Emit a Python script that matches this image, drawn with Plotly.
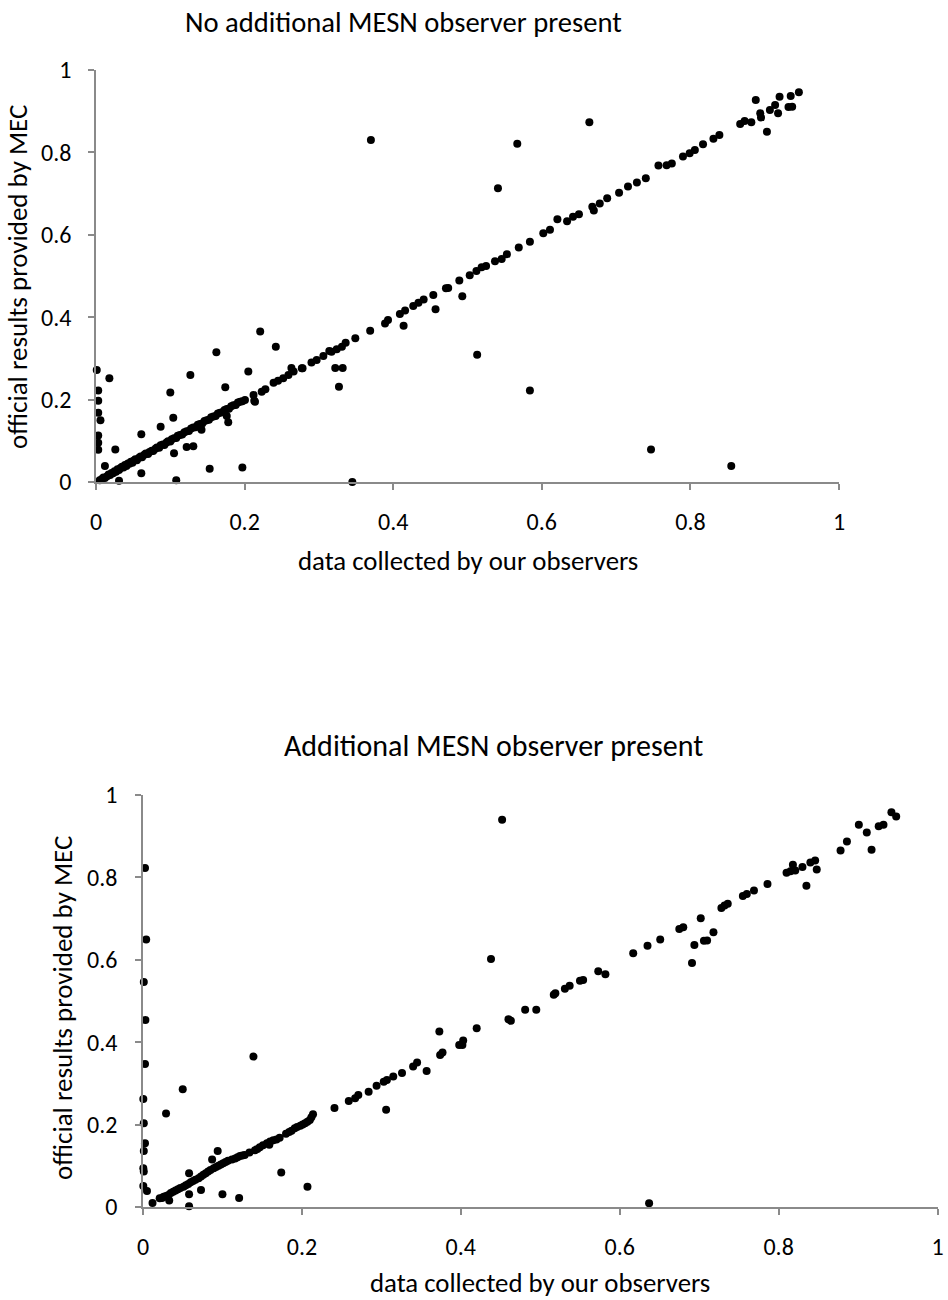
import plotly.graph_objects as go

# ---------------- data ----------------
tick_vals = [0, 0.2, 0.4, 0.6, 0.8, 1]
tick_text = ["0", "0.2", "0.4", "0.6", "0.8", "1"]

title_top = "No additional MESN observer present"
title_bottom = "Additional MESN observer present"
x_title = "data collected by our observers"
y_title = "official results provided by MEC"

# Top panel: no additional MESN observer present
top_x = [
    0.001, 0.003, 0.003, 0.003, 0.006, 0.003, 0.003, 0.003, 0.018, 0.012, 0.026, 0.031,
    0.061, 0.061, 0.087, 0.104, 0.100, 0.127, 0.162, 0.174, 0.205, 0.105, 0.122, 0.131,
    0.108, 0.153, 0.197, 0.142, 0.178, 0.176, 0.213, 0.221, 0.242,
    0.263, 0.278, 0.322, 0.332, 0.327, 0.345, 0.370, 0.414, 0.457, 0.493, 0.513, 0.584,
    0.747, 0.855, 0.541, 0.567, 0.664,
    0.888, 0.903, 0.918, 0.920, 0.935, 0.946, 0.932, 0.937, 0.882, 0.867, 0.873, 0.895,
    0.894, 0.907, 0.914,
    0.005, 0.008, 0.010, 0.012, 0.015, 0.017, 0.019, 0.021, 0.023, 0.025, 0.027, 0.029,
    0.031, 0.033, 0.035, 0.037, 0.039, 0.041, 0.043, 0.045, 0.047, 0.049, 0.051, 0.053,
    0.055, 0.058, 0.060, 0.062, 0.065, 0.067, 0.070, 0.072, 0.075, 0.077, 0.080, 0.082,
    0.085, 0.087, 0.090, 0.092, 0.095, 0.097, 0.100, 0.102, 0.105, 0.108, 0.110, 0.113,
    0.116, 0.119, 0.122, 0.125, 0.128, 0.131, 0.134, 0.137, 0.140, 0.143, 0.146, 0.149,
    0.152, 0.155, 0.158, 0.161, 0.164, 0.167, 0.170, 0.173, 0.176, 0.179, 0.182, 0.185,
    0.188, 0.191, 0.194, 0.197,
    0.2005, 0.212, 0.214, 0.223, 0.228, 0.239, 0.245, 0.252, 0.259, 0.266, 0.277, 0.290,
    0.297, 0.306, 0.314, 0.317, 0.324, 0.331, 0.336, 0.349,
    0.369, 0.389, 0.393, 0.409, 0.416, 0.427, 0.434, 0.441, 0.454, 0.471, 0.474, 0.489,
    0.503, 0.512, 0.519, 0.525, 0.537, 0.546, 0.553, 0.569, 0.584, 0.602, 0.611, 0.621,
    0.634, 0.642, 0.650, 0.668, 0.670, 0.678, 0.688, 0.704, 0.716, 0.728, 0.740, 0.757,
    0.768, 0.775, 0.790, 0.799, 0.806, 0.817, 0.831, 0.839,
]
top_y = [
    0.272, 0.222, 0.197, 0.168, 0.150, 0.113, 0.095, 0.078, 0.252, 0.039, 0.079, 0.003,
    0.021, 0.116, 0.134, 0.156, 0.217, 0.260, 0.315, 0.230, 0.268, 0.070, 0.085, 0.087,
    0.004, 0.032, 0.035, 0.127, 0.145, 0.160, 0.197, 0.365, 0.328,
    0.277, 0.276, 0.277, 0.277, 0.231, 0.000, 0.830, 0.379, 0.419, 0.451, 0.309, 0.222,
    0.079, 0.039, 0.713, 0.821, 0.873,
    0.927, 0.850, 0.895, 0.935, 0.937, 0.946, 0.910, 0.911, 0.873, 0.869, 0.876, 0.885,
    0.895, 0.903, 0.915,
    0.004, 0.007, 0.011, 0.010, 0.014, 0.018, 0.017, 0.022, 0.021, 0.026, 0.025, 0.031,
    0.029, 0.034, 0.037, 0.035, 0.041, 0.039, 0.045, 0.044, 0.049, 0.047, 0.052, 0.055,
    0.053, 0.059, 0.062, 0.060, 0.066, 0.069, 0.068, 0.073, 0.076, 0.075, 0.081, 0.084,
    0.083, 0.089, 0.091, 0.090, 0.096, 0.099, 0.098, 0.104, 0.106, 0.107, 0.112, 0.114,
    0.115, 0.121, 0.123, 0.124, 0.130, 0.132, 0.133, 0.139, 0.141, 0.142, 0.148, 0.150,
    0.151, 0.157, 0.159, 0.160, 0.166, 0.168, 0.169, 0.175, 0.177, 0.178, 0.184, 0.186,
    0.187, 0.193, 0.195, 0.196,
    0.199, 0.211, 0.195, 0.219, 0.225, 0.241, 0.246, 0.252, 0.260, 0.268, 0.276, 0.290,
    0.296, 0.306, 0.318, 0.316, 0.322, 0.328, 0.338, 0.349,
    0.367, 0.385, 0.393, 0.408, 0.416, 0.427, 0.435, 0.443, 0.454, 0.470, 0.471, 0.489,
    0.502, 0.512, 0.521, 0.524, 0.536, 0.541, 0.553, 0.569, 0.583, 0.604, 0.612, 0.638,
    0.633, 0.644, 0.650, 0.668, 0.659, 0.676, 0.689, 0.702, 0.717, 0.727, 0.737, 0.768,
    0.769, 0.773, 0.790, 0.798, 0.806, 0.820, 0.833, 0.842,
]

# Bottom panel: additional MESN observer present
bottom_x = [
    0.0025, 0.004, 0.001, 0.003, 0.0025, 0.0004, 0.001, 0.0025, 0.001, 0.0004, 0.001, 0.0004,
    0.005, 0.012,
    0.029, 0.050, 0.139, 0.058, 0.058, 0.033, 0.073, 0.100, 0.121, 0.174, 0.207, 0.058,
    0.087, 0.094, 0.306, 0.357, 0.373, 0.374, 0.377, 0.452, 0.438, 0.637, 0.159,
    0.021, 0.026, 0.032, 0.038, 0.044, 0.051, 0.057, 0.063, 0.070, 0.076, 0.082, 0.089,
    0.095, 0.101, 0.107, 0.116, 0.122, 0.128, 0.141, 0.147, 0.156, 0.160, 0.168, 0.187,
    0.191, 0.198, 0.204, 0.210, 0.214, 0.212,
    0.024, 0.029, 0.035, 0.041, 0.047, 0.054, 0.060, 0.066, 0.073, 0.079, 0.085, 0.092,
    0.098, 0.104, 0.112, 0.119, 0.125, 0.134, 0.144, 0.151, 0.164, 0.172, 0.180, 0.184,
    0.194, 0.201, 0.207,
    0.241, 0.259, 0.267, 0.271, 0.284, 0.294, 0.303, 0.307, 0.315, 0.326, 0.340, 0.345,
    0.398, 0.402, 0.403, 0.420, 0.460, 0.463, 0.481, 0.495, 0.517, 0.519, 0.531, 0.537,
    0.550, 0.554, 0.573, 0.582, 0.617, 0.635, 0.651, 0.675, 0.680, 0.702, 0.691, 0.694,
    0.706, 0.710, 0.718, 0.728, 0.732, 0.736, 0.755, 0.760, 0.769, 0.786, 0.810, 0.815,
    0.818, 0.821, 0.830, 0.835, 0.840, 0.846, 0.848, 0.878, 0.886, 0.901, 0.911, 0.917,
    0.926, 0.932, 0.942, 0.948,
]
bottom_y = [
    0.823, 0.649, 0.546, 0.454, 0.347, 0.262, 0.203, 0.155, 0.136, 0.094, 0.086, 0.051,
    0.039, 0.010,
    0.227, 0.286, 0.365, 0.002, 0.031, 0.016, 0.041, 0.031, 0.022, 0.084, 0.049, 0.082,
    0.115, 0.136, 0.236, 0.330, 0.426, 0.369, 0.375, 0.940, 0.602, 0.009, 0.151,
    0.021, 0.025, 0.029, 0.037, 0.043, 0.049, 0.056, 0.063, 0.070, 0.078, 0.086, 0.094,
    0.100, 0.106, 0.112, 0.118, 0.124, 0.126, 0.138, 0.145, 0.155, 0.159, 0.164, 0.185,
    0.191, 0.197, 0.203, 0.211, 0.225, 0.218,
    0.022, 0.027, 0.034, 0.040, 0.046, 0.053, 0.060, 0.066, 0.074, 0.082, 0.090, 0.097,
    0.103, 0.109, 0.115, 0.121, 0.125, 0.132, 0.141, 0.150, 0.162, 0.168, 0.178, 0.182,
    0.194, 0.200, 0.207,
    0.240, 0.257, 0.264, 0.272, 0.280, 0.294, 0.304, 0.308, 0.317, 0.325, 0.341, 0.351,
    0.393, 0.393, 0.404, 0.434, 0.456, 0.452, 0.479, 0.479, 0.515, 0.519, 0.530, 0.537,
    0.549, 0.551, 0.572, 0.565, 0.616, 0.634, 0.649, 0.675, 0.679, 0.701, 0.592, 0.636,
    0.646, 0.647, 0.667, 0.726, 0.732, 0.736, 0.755, 0.760, 0.768, 0.784, 0.811, 0.815,
    0.831, 0.817, 0.825, 0.780, 0.836, 0.841, 0.819, 0.865, 0.887, 0.928, 0.909, 0.867,
    0.924, 0.928, 0.958, 0.948,
]

# ---------------- layout helpers ----------------
W, H = 948, 1300
FONT = "Carlito, Calibri, Lato, sans-serif"
AXIS_GREY = "#8a8a8a"


def px_x(p):
    return p / W


def px_y(p):
    return 1 - p / H


marker = dict(color="black", size=8, line=dict(width=0))

fig = go.Figure()
fig.add_trace(go.Scatter(x=top_x, y=top_y, mode="markers", marker=marker,
                         xaxis="x", yaxis="y", cliponaxis=False, showlegend=False))
fig.add_trace(go.Scatter(x=bottom_x, y=bottom_y, mode="markers", marker=marker,
                         xaxis="x2", yaxis="y2", cliponaxis=False, showlegend=False))

axis_common = dict(
    range=[0, 1], tickvals=tick_vals, ticktext=tick_text,
    showgrid=False, zeroline=False, showline=True,
    linecolor=AXIS_GREY, linewidth=1.5,
    ticks="outside", ticklen=6, tickwidth=1.5, tickcolor=AXIS_GREY,
    tickfont=dict(family=FONT, size=24, color="black"),
    fixedrange=True, automargin=False,
)

fig.update_layout(
    width=W, height=H, autosize=False,
    margin=dict(l=0, r=0, t=0, b=0, pad=0, autoexpand=False),
    showlegend=False,
    paper_bgcolor="white", plot_bgcolor="white",
    xaxis=dict(axis_common, domain=[px_x(96), px_x(839)], anchor="y", ticklabelstandoff=11),
    yaxis=dict(axis_common, domain=[px_y(482), px_y(70)], anchor="x", ticklabelstandoff=12),
    xaxis2=dict(axis_common, domain=[px_x(143), px_x(937.5)], anchor="y2", ticklabelstandoff=11),
    yaxis2=dict(axis_common, domain=[px_y(1207), px_y(795)], anchor="x2", ticklabelstandoff=13),
)

xt_font = dict(family=FONT, size=26.8, color="black")
yt_font = dict(family=FONT, size=27, color="black")
annotations = [
    dict(text=title_top, x=px_x(403.5), y=px_y(22), font=dict(family=FONT, size=28.6, color="black")),
    dict(text=x_title, x=px_x(468), y=px_y(560), font=xt_font),
    dict(text=y_title, x=px_x(18), y=px_y(277), font=yt_font, textangle=-90),
    dict(text=title_bottom, x=px_x(493), y=px_y(745), font=dict(family=FONT, size=30, color="black")),
    dict(text=x_title, x=px_x(540), y=px_y(1282), font=xt_font),
    dict(text=y_title, x=px_x(63), y=px_y(1008), font=yt_font, textangle=-90),
]
for a in annotations:
    a.update(xref="paper", yref="paper", showarrow=False, xanchor="center", yanchor="middle")
fig.update_layout(annotations=annotations)

fig.write_html("out.html")
